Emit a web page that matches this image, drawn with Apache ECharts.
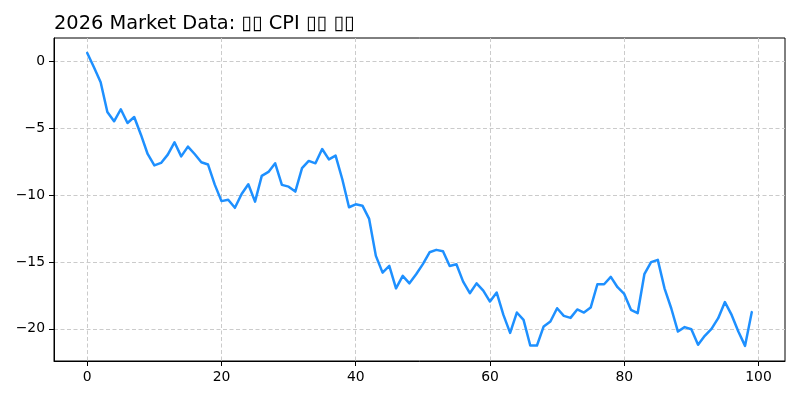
<!DOCTYPE html>
<html>
<head>
<meta charset="utf-8">
<script src="https://cdn.jsdelivr.net/npm/echarts@6/dist/echarts.min.js"></script>
<style>html,body{margin:0;padding:0;background:#fff}#c{width:800px;height:400px}</style>
</head>
<body>
<div id="c"></div>
<script>
const titleText = '2026 Market Data: \u25AF\u25AF CPI \u25AF\u25AF \u25AF\u25AF';
const values = [
  0.6, -0.47, -1.59, -3.8, -4.5, -3.6, -4.63, -4.18, -5.5, -6.94,
  -7.79, -7.61, -6.99, -6.07, -7.12, -6.39, -6.94, -7.56, -7.73, -9.23,
  -10.46, -10.36, -10.96, -9.93, -9.2, -10.5, -8.58, -8.28, -7.64, -9.25,
  -9.38, -9.75, -8.0, -7.46, -7.64, -6.57, -7.34, -7.06, -8.83, -10.92,
  -10.7, -10.8, -11.79, -14.55, -15.8, -15.3, -16.97, -16.04, -16.6, -15.92,
  -15.17, -14.28, -14.1, -14.2, -15.3, -15.17, -16.47, -17.34, -16.6, -17.14,
  -17.96, -17.29, -18.96, -20.3, -18.78, -19.33, -21.24, -21.24, -19.82, -19.45,
  -18.46, -19.03, -19.18, -18.55, -18.78, -18.41, -16.67, -16.67, -16.12, -16.89,
  -17.39, -18.58, -18.83, -15.92, -15.02, -14.85, -16.97, -18.46, -20.2, -19.87,
  -20.03, -21.19, -20.52, -20.0, -19.2, -18.0, -18.96, -20.2, -21.27, -18.75
];
const xTicks = [0, 20, 40, 60, 80, 100];
const yTicks = [-20, -15, -10, -5, 0];

const data = values.map((v, i) => [i, v]);
const fmt = v => String(v).replace('-', '\u2212');
const font = 'DejaVu Sans';
const split = { show: true, lineStyle: { color: '#cbcbcb', type: [4, 2.5], width: 1 } };

const chart = echarts.init(document.getElementById('c'), null, { renderer: 'canvas' });
chart.setOption({
  animation: false,
  backgroundColor: '#fff',
  title: {
    text: titleText, left: 49, top: 9,
    textStyle: { fontFamily: font, fontSize: 19.4, fontWeight: 'normal', color: '#000' }
  },
  grid: { left: 54, right: 15, top: 38, bottom: 39, show: true, borderColor: '#000', borderWidth: 1 },
  xAxis: {
    type: 'value', min: -4.95, max: 103.95,
    axisLine: { show: true, onZero: false, lineStyle: { color: '#000', width: 1 } },
    axisTick: { show: true, length: 5, inside: false, customValues: xTicks, lineStyle: { color: '#000' } },
    axisLabel: { customValues: xTicks, formatter: fmt, fontFamily: font, fontSize: 13.9, color: '#000', margin: 9 },
    splitLine: split
  },
  yAxis: {
    type: 'value', min: -22.4, max: 1.72,
    axisLine: { show: true, onZero: false, lineStyle: { color: '#000', width: 1 } },
    axisTick: { show: true, length: 5, inside: false, customValues: yTicks, lineStyle: { color: '#000' } },
    axisLabel: { customValues: yTicks, formatter: fmt, fontFamily: font, fontSize: 13.9, color: '#000', margin: 9 },
    splitLine: split
  },
  series: [{
    type: 'line', data: data, showSymbol: false, symbol: 'none',
    lineStyle: { color: '#1E90FF', width: 2.5, cap: 'round', join: 'round' },
    clip: true
  }]
});
</script>
</body>
</html>
